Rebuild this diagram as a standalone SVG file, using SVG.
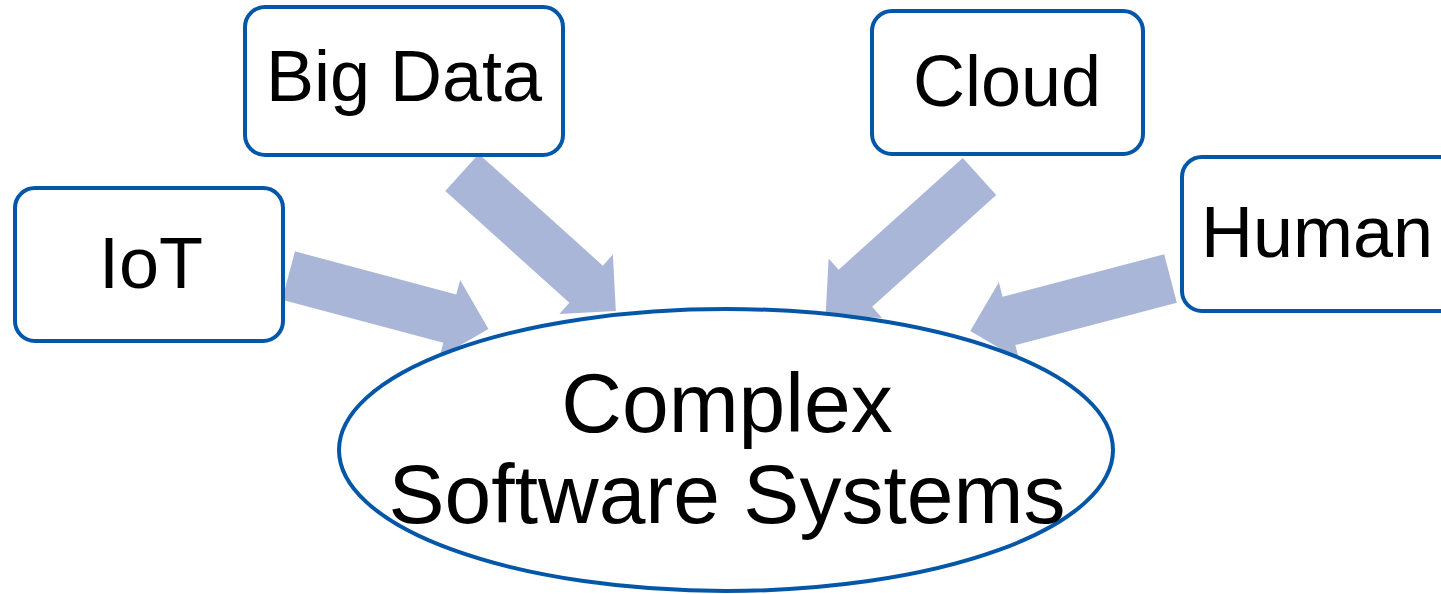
<svg xmlns="http://www.w3.org/2000/svg" width="1441" height="594" viewBox="0 0 1441 594">
<style>
.box{fill:#fff;stroke:#0457A7;stroke-width:4}
.arr{fill:#AAB6D8}
.t{font-family:"Liberation Sans",Arial,sans-serif;fill:#000;text-anchor:middle}
.s{font-size:72px}
.l{font-size:84px}
</style>
<defs>
<path id="blk" d="M0,-25 L167,-25 L167,-40 L207,0 L167,40 L167,25 L0,25 Z"/>
</defs>
<rect width="1441" height="594" fill="#fff"/>
<g id="connectors">
<use href="#blk" class="arr" transform="translate(288.5,275.5) rotate(15)"/>
<use href="#blk" class="arr" transform="translate(462,172.5) rotate(42)"/>
<use href="#blk" class="arr" transform="translate(979.5,176.5) rotate(138)"/>
<use href="#blk" class="arr" transform="translate(1170.5,278.5) rotate(165.3)"/>
</g>
<g id="complex">
<ellipse class="box" cx="726" cy="450" rx="387" ry="141"/>
<text class="t l" x="727" y="432">Complex</text>
<text class="t l" x="727" y="523">Software Systems</text>
</g>
<g id="bigdata">
<rect class="box" x="245" y="7" width="318" height="148" rx="20"/>
<text class="t s" x="404" y="101">Big Data</text>
</g>
<g id="cloud">
<rect class="box" x="872" y="11" width="271" height="143" rx="20"/>
<text class="t s" x="1007" y="106">Cloud</text>
</g>
<g id="iot">
<rect class="box" x="15" y="188" width="268" height="153" rx="20"/>
<text class="t s" x="151" y="288">IoT</text>
</g>
<g id="human">
<rect class="box" x="1182" y="157" width="280" height="154" rx="20"/>
<text class="t s" x="1317" y="257">Human</text>
</g>
</svg>
